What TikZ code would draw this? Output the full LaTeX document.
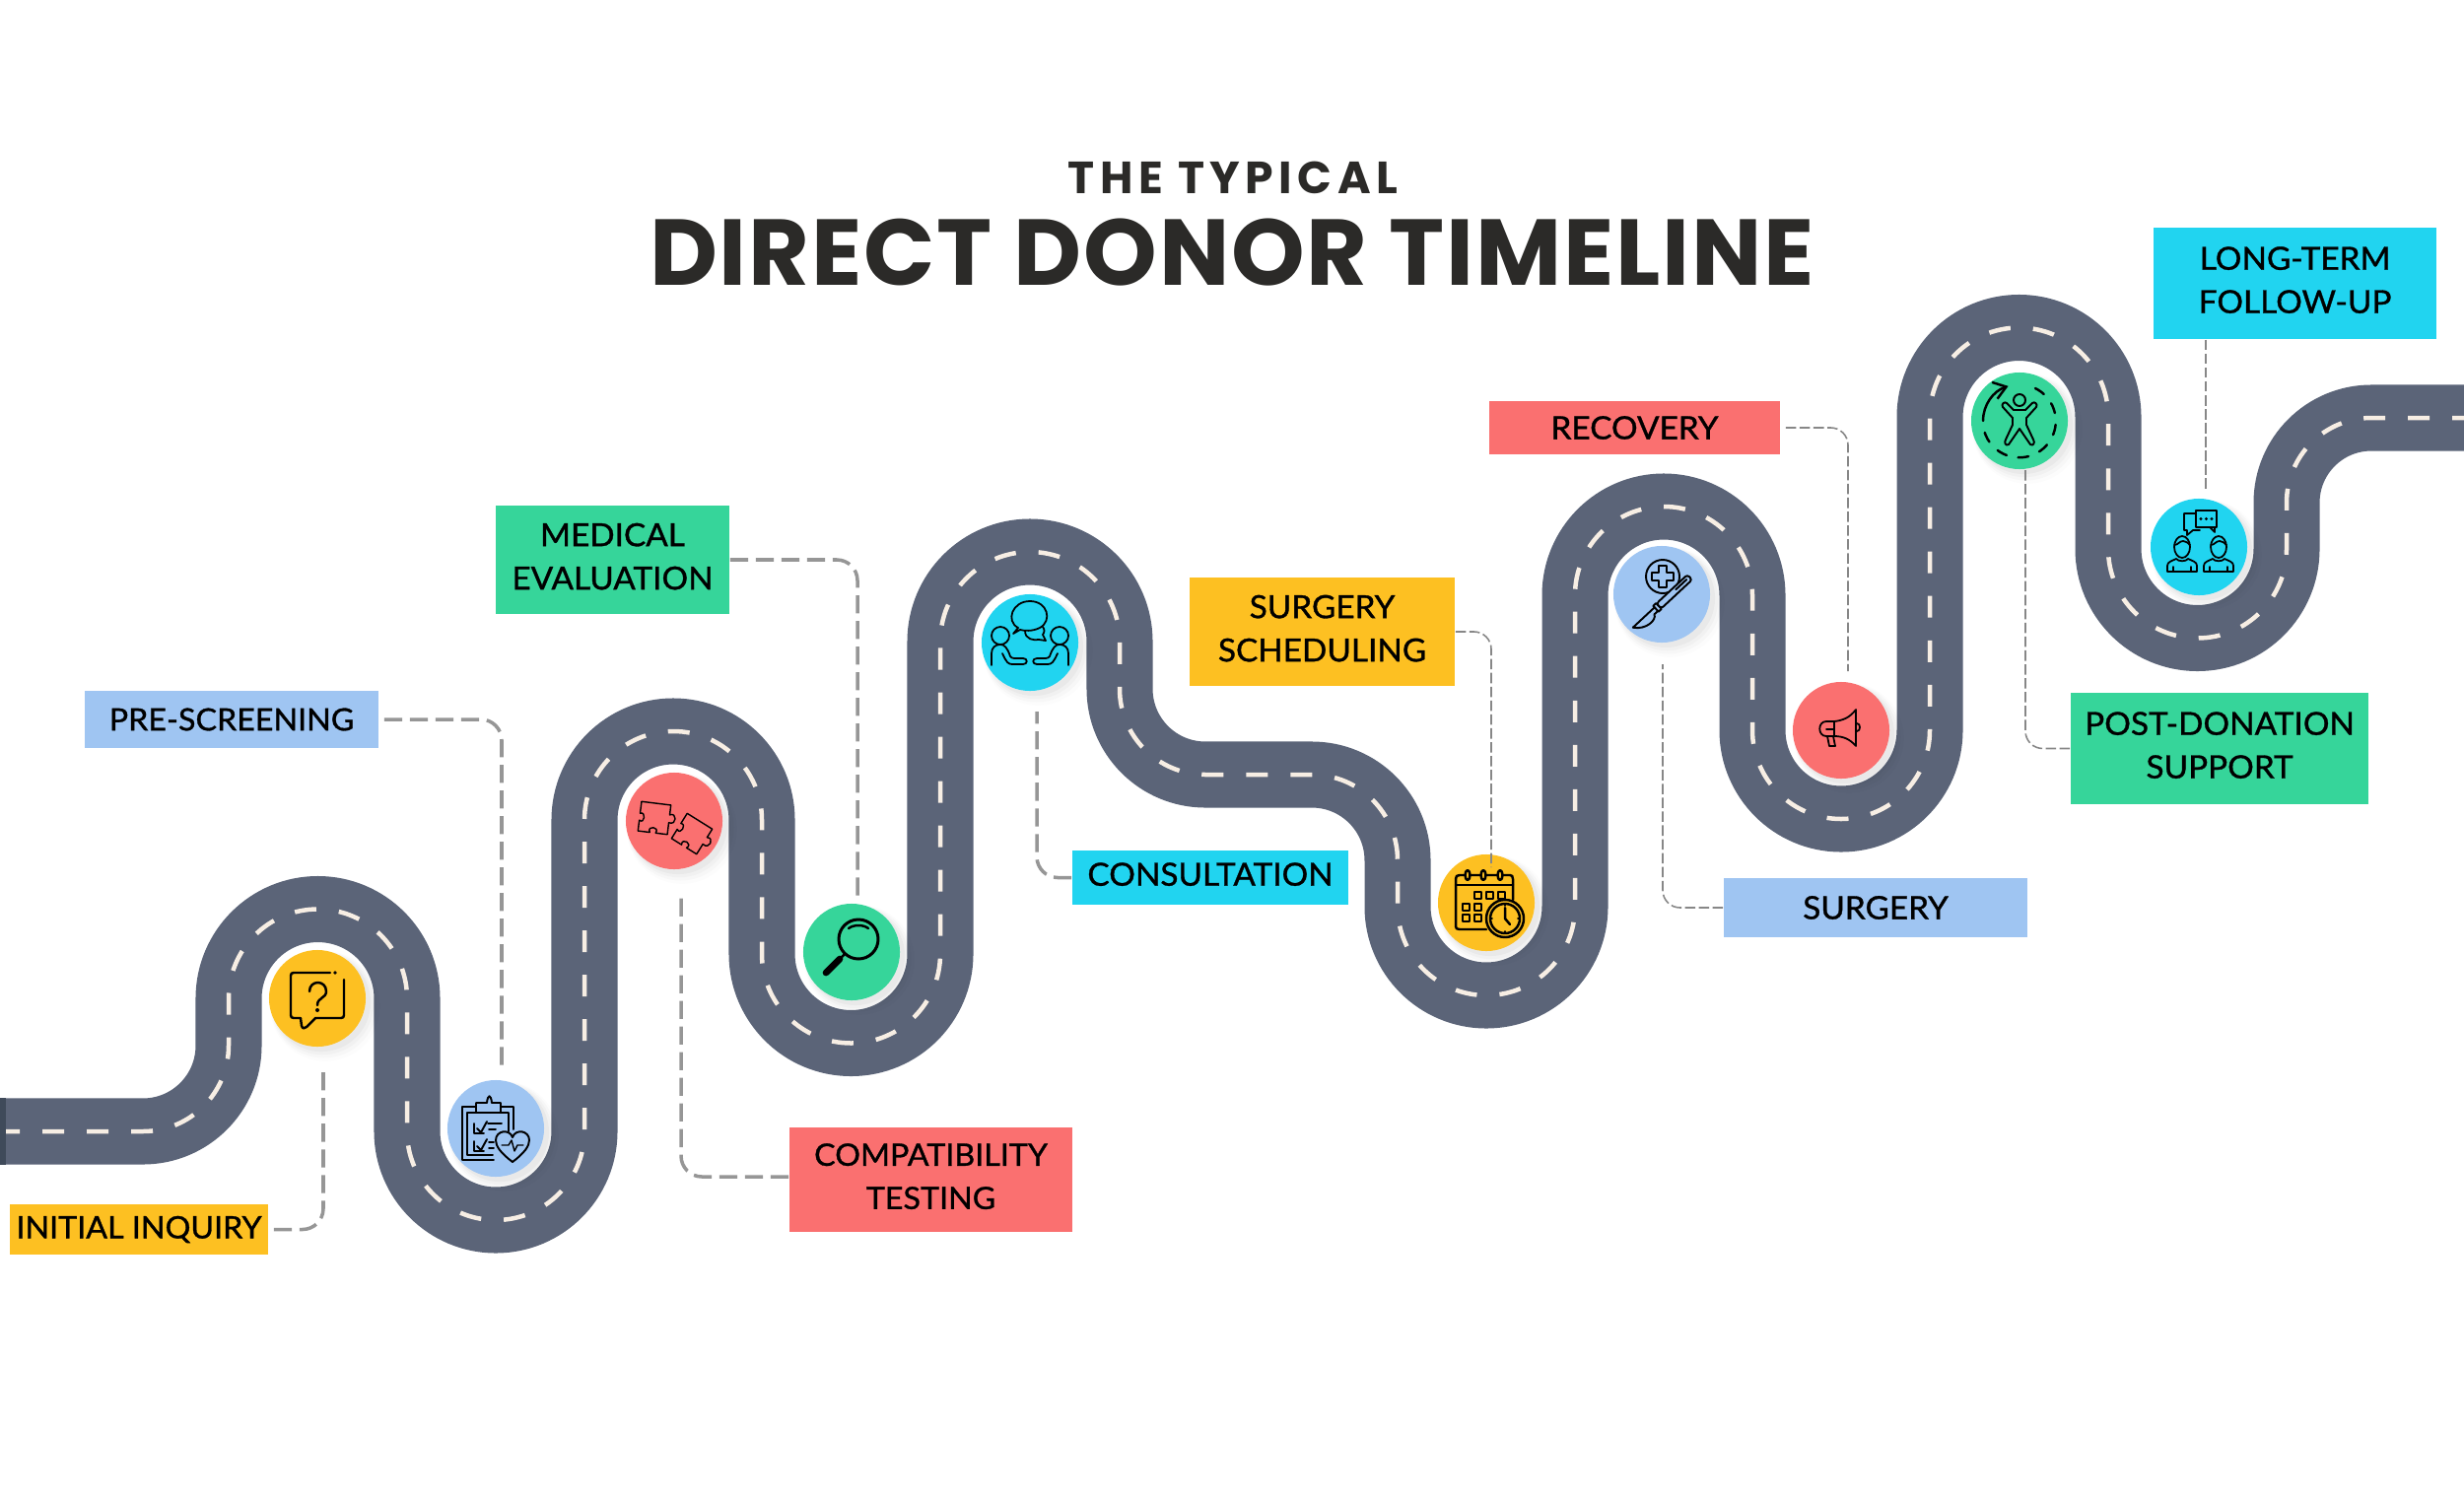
\documentclass[tikz,border=0pt]{standalone}
\usepackage{fontspec}
\setmainfont{Lato}
\newfontfamily\tagfont{Lato}[FakeBold=1, FakeStretch=1.03]
\newfontfamily\titlefont{Poppins}[LetterSpace=1.9]
\newfontfamily\leadfont{Poppins}[LetterSpace=12]
\usetikzlibrary{arrows.meta, shadows}
\definecolor{roadgrey}{HTML}{5B6478}
\definecolor{roadend}{HTML}{3F4A5A}
\definecolor{lanecream}{HTML}{F7EEE4}
\definecolor{tagyellow}{HTML}{FDC022}
\definecolor{tagblue}{HTML}{9FC5F2}
\definecolor{tagred}{HTML}{FA7070}
\definecolor{taggreen}{HTML}{36D59A}
\definecolor{tagcyan}{HTML}{21D4F0}
\definecolor{leadergrey}{HTML}{969696}
\definecolor{inkdark}{HTML}{2B2A28}
\newcommand{\roadcourse}{(0,1148) -- (145,1148) arc (90:0:87) -- (232,1013)
    arc (180:360:90.5) -- (413,1148) arc (180:0:90) -- (593,832)
    arc (180:360:90) -- (773,968) arc (180:0:90.5) -- (954,651)
    arc (180:360:91) -- (1136,699) arc (180:90:87) -- (1331,786)
    arc (270:360:87) -- (1418,920) arc (180:0:90) -- (1598,604)
    arc (180:360:90) -- (1778,741) arc (180:0:90) -- (1958,423)
    arc (180:360:90.5) -- (2139,557) arc (180:0:90.5) -- (2320,510)
    arc (180:270:86) -- (2500,424)}
\newcommand{\puzzlepiece}{(-15,-15) -- (15,-15) -- (15,-5)
    .. controls (22,-9) and (24,5) .. (15,3) -- (15,15) -- (3,15)
    .. controls (7,8) and (-7,8) .. (-3,15) -- (-15,15) -- (-15,4)
    .. controls (-9,8) and (-9,-6) .. (-15,-3) -- cycle}

\begin{document}
\begin{tikzpicture}[
    x=0.01cm, y=-0.01cm,
    road/.style={line width=0.67cm, roadgrey},
    lane/.style={line width=0.045cm, lanecream, dash pattern=on 0.22cm off 0.23cm, dash phase=0.02cm},
    tag/.style={inner sep=0, align=center, text=black, font=\tagfont\fontsize{9.2}{12.5}\selectfont},
    tagsmall/.style={tag, font=\tagfont\fontsize{8.9}{12.5}\selectfont},
    tagpair/.style={tag, text depth=2pt},
    stopdot/.style={circle, inner sep=0, minimum size=0.98cm,
        drop shadow={shadow xshift=0.07cm, shadow yshift=-0.07cm, shadow scale=1.14, opacity=0.012, fill=black},
        drop shadow={shadow xshift=0.06cm, shadow yshift=-0.06cm, shadow scale=1.1, opacity=0.018, fill=black},
        drop shadow={shadow xshift=0.05cm, shadow yshift=-0.05cm, shadow scale=1.06, opacity=0.025, fill=black},
        drop shadow={shadow xshift=0.04cm, shadow yshift=-0.04cm, shadow scale=1.02, opacity=0.03, fill=black}},
    leader/.style={leadergrey, line width=1pt, dash pattern=on 5.2pt off 2.2pt, rounded corners=6pt},
    leaderthin/.style={leadergrey!90!black, line width=0.45pt, dash pattern=on 3pt off 1pt, rounded corners=5pt},
    icon/.style={black, line width=0.7pt, line cap=round, line join=round},
    iconthin/.style={black, line width=0.4pt, line cap=round, line join=round}
]
    \useasboundingbox (0,0) rectangle (2500,1518);

    % Title
    \node[inner sep=0, text=inkdark, font=\leadfont\bfseries\fontsize{13}{13}\selectfont] (lead) at (1251,180) {THE TYPICAL};
    \node[inner sep=0, text=inkdark, font=\titlefont\bfseries\fontsize{27}{27}\selectfont] (headline) at (1250,256) {DIRECT DONOR TIMELINE};

    % Road
    \draw[road] \roadcourse;
    \draw[lane] \roadcourse;
    \fill[roadend] (0,1114) rectangle (6,1182);

    % Stops
    \node[stopdot, fill=tagyellow] (stopinquiry) at (322,1013) {};
    \node[stopdot, fill=tagblue] (stopscreen) at (503,1145) {};
    \node[stopdot, fill=tagred] (stoptest) at (684,833) {};
    \node[stopdot, fill=taggreen] (stopeval) at (864,966) {};
    \node[stopdot, fill=tagcyan] (stopconsult) at (1045,652) {};
    \node[stopdot, fill=tagyellow] (stopsched) at (1508,916) {};
    \node[stopdot, fill=tagblue] (stopsurgery) at (1686,603) {};
    \node[stopdot, fill=tagred] (stoprecovery) at (1868,741) {};
    \node[stopdot, fill=taggreen] (stopsupport) at (2049,427) {};
    \node[stopdot, fill=tagcyan] (stopfollow) at (2231,555) {};

    % Labels
    \node[tagsmall, fill=tagyellow, minimum width=2.62cm, minimum height=0.51cm] (inquiry) at (141,1247.5) {INITIAL INQUIRY};
    \node[tagsmall, fill=tagblue, minimum width=2.98cm, minimum height=0.58cm] (screen) at (235,730) {PRE-SCREENING};
    \node[tagpair, fill=taggreen, minimum width=2.37cm, minimum height=1.10cm] (eval) at (621.5,568) {MEDICAL\\EVALUATION};
    \node[tagpair, tagsmall, fill=tagred, minimum width=2.87cm, minimum height=1.05cm] (test) at (944.5,1197) {COMPATIBILITY\\TESTING};
    \node[tagpair, fill=tagcyan, minimum width=2.80cm, minimum height=0.55cm] (consult) at (1228,890.5) {CONSULTATION};
    \node[tagpair, fill=tagyellow, minimum width=2.69cm, minimum height=1.09cm] (sched) at (1341.5,641) {SURGERY\\SCHEDULING};
    \node[tag, fill=tagblue, minimum width=3.08cm, minimum height=0.60cm] (surgery) at (1903,921) {SURGERY};
    \node[tag, fill=tagred, minimum width=2.95cm, minimum height=0.54cm] (recovery) at (1658.5,434) {RECOVERY};
    \node[tagpair, fill=taggreen, minimum width=3.02cm, minimum height=1.13cm] (support) at (2252,759.5) {POST-DONATION\\SUPPORT};
    \node[tagpair, fill=tagcyan, minimum width=2.87cm, minimum height=1.13cm] (follow) at (2328.5,287.5) {LONG-TERM\\FOLLOW-UP};

    % Leaders
    \coordinate (inquiryend) at (328,1082);
    \coordinate (screenend) at (509,1088);
    \coordinate (evalend) at (870,910);
    \coordinate (testend) at (691,909);
    \coordinate (consultend) at (1052,722);
    \coordinate (schedend) at (1513,880);
    \coordinate (surgeryend) at (1687,674);
    \coordinate (recoveryend) at (1875,681);
    \coordinate (supportend) at (2055,477);
    \coordinate (followend) at (2238,497);
    \draw[leader, shorten <=0.05cm] (inquiry.east) -| (inquiryend);
    \draw[leader, shorten <=0.05cm] (screen.east) -| (screenend);
    \draw[leader] (eval.east) -| (evalend);
    \draw[leader] ([yshift=0.03cm]test.west) -| (testend);
    \draw[leader] (consult.west) -| (consultend);
    \draw[leaderthin] (sched.east) -| (schedend);
    \draw[leaderthin] (surgery.west) -| (surgeryend);
    \draw[leaderthin, shorten <=0.05cm] (recovery.east) -| (recoveryend);
    \draw[leaderthin] (support.west) -| (supportend);
    \draw[leaderthin] (followend |- follow.south) -- (followend);

    % Icon: question bubble
    \begin{scope}[icon, shift={(stopinquiry)}]
        \draw (13,-26) -- (-24,-26) .. controls (-26,-26) and (-27,-25) .. (-27,-23) -- (-27,17)
            .. controls (-27,19) and (-26,20) .. (-24,20) -- (-17,20) -- (-16,28)
            .. controls (-15,31) and (-13,31) .. (-11,29) -- (-2,20) -- (24,20)
            .. controls (26,20) and (27,19) .. (27,17) -- (27,-19);
        \fill (18,-26) circle[radius=1.8];
        \draw (-8,-7) .. controls (-8,-19) and (9,-19) .. (9,-7) .. controls (9,0) and (0,-1) .. (0,7);
        \fill (0,12) circle[radius=2];
    \end{scope}

    % Icon: clipboard with heart
    \begin{scope}[icon, shift={(stopscreen)}, line width=0.55pt]
        \draw (-20,-16) -- (-20,-26) -- (-9,-26) .. controls (-8,-35) and (-5,-35) .. (-4,-26) -- (5,-26) -- (5,-16) -- cycle;
        \draw (-20,-22) -- (-34,-22) -- (-34,32) -- (-2,32);
        \draw (5,-22) -- (18,-22) -- (18,1);
        \draw (-20,-16) -- (-29,-16) -- (-29,27) -- (-3,27);
        \draw (5,-16) -- (13,-16) -- (13,3);
        \draw (-22,-5) -- (-22,5) -- (-12,5);
        \draw (-19,0) -- (-15,4) -- (-9,-7);
        \draw (-8,-5) -- (6,-5) (-7,1) -- (0,1);
        \draw (-22,13) -- (-22,23) -- (-12,23);
        \draw (-19,18) -- (-15,22) -- (-9,11);
        \draw (-7,14) -- (-2,14) (-7,20) -- (-2,20);
        \draw[fill=tagblue] (17,34) .. controls (5,25) and (0,18) .. (0,12) .. controls (0,2) and (14,0) .. (17,9)
            .. controls (20,0) and (34,2) .. (34,12) .. controls (34,18) and (29,25) .. (17,34) -- cycle;
        \draw[iconthin] (6,17) -- (13,17) -- (16,12) -- (19,23) -- (22,17) -- (28,17);
    \end{scope}

    % Icon: puzzle
    \begin{scope}[iconthin, shift={(stoptest)}]
        \draw[shift={(-20,-3)}, rotate=-7] \puzzlepiece;
        \draw[shift={(18,13)}, rotate=-32] \puzzlepiece;
    \end{scope}

    % Icon: magnifier
    \begin{scope}[icon, shift={(stopeval)}]
        \draw[line width=0.85pt] (7,-13) circle[radius=20];
        \draw (-3,-24) .. controls (2,-28) and (12,-28) .. (17,-24);
        \draw (-7,2) -- (-11,6);
        \draw[line width=1.9pt] (-12,7) -- (-26,21);
    \end{scope}

    % Icon: two people talking
    \begin{scope}[iconthin, shift={(stopconsult)}, line width=0.5pt]
        \draw (-12,-15) .. controls (-25,-22) and (-18,-42) .. (0,-42) .. controls (18,-42) and (23,-22) .. (10,-15)
            .. controls (2,-11) and (-6,-12) .. (-10,-13) -- (-17,-9) -- cycle;
        \draw (-5,-12) .. controls (-5,-3) and (4,-2) .. (9,-3) -- (16,-2) -- (13,-8) .. controls (15,-11) and (15,-13) .. (13,-16);
        \foreach \side in {1,-1} {
            \begin{scope}[xscale=\side]
                \draw (-30,-7) circle[radius=9];
                \draw (-39,23) -- (-39,11) .. controls (-39,5) and (-35,2) .. (-30,2)
                    .. controls (-26,2) and (-23,5) .. (-20,14) .. controls (-19,15) and (-18,16) .. (-16,16) -- (-7,16)
                    .. controls (-2,16) and (-2,22) .. (-7,22) -- (-18,22) .. controls (-22,22) and (-24,20) .. (-28,11);
            \end{scope}
        }
    \end{scope}

    % Icon: calendar with clock
    \begin{scope}[icon, shift={(stopsched)}]
        \draw (0,27) -- (-27,27) .. controls (-30,27) and (-31,26) .. (-31,24) -- (-31,-24)
            .. controls (-31,-27) and (-30,-28) .. (-27,-28) -- (24,-28) .. controls (26,-28) and (27,-27) .. (27,-24) -- (27,-3);
        \draw (-31,-18) -- (27,-18);
        \foreach \ringx in {-19,-3,14} {
            \draw[fill=tagyellow] (\ringx,-28) ellipse (2.5 and 5);
        }
        \foreach \cellx/\celly in {-12/-11, 0/-11, 12/-11, -24/1, -12/1, -24/12, -12/12} {
            \draw[line width=0.55pt] (\cellx,\celly) rectangle ++(7,7);
        }
        \draw[fill=tagyellow] (19,16) circle[radius=19];
        \draw (19,16) circle[radius=15];
        \draw (19,5) -- (19,16) -- (24,22);
        \draw[line width=0.5pt] (19,1) -- (19,3) (19,29) -- (19,31) (4,16) -- (6,16) (32,16) -- (34,16);
    \end{scope}

    % Icon: scalpel and cross
    \begin{scope}[icon, shift={(stopsurgery)}, line width=0.55pt]
        \draw (1,-18) circle[radius=17];
        \draw (-3,-29) -- (5,-29) -- (5,-22) -- (12,-22) -- (12,-14) -- (5,-14) -- (5,-7) -- (-3,-7) -- (-3,-14) -- (-10,-14) -- (-10,-22) -- (-3,-22) -- cycle;
        \begin{scope}[shift={(-3,12)}, rotate=43]
            \draw[fill=tagblue, rounded corners=0.8pt] (0,-3.5) rectangle (43,3.5);
            \draw (24,-0.5) -- (39,-0.5);
            \draw[fill=tagblue] (-4,-4) rectangle (0,4);
            \draw (-4,-2) -- (-9,-2) -- (-34,-2) .. controls (-26,9) and (-11,9) .. (-9,3) -- (-4,3);
        \end{scope}
    \end{scope}

    % Icon: megaphone
    \begin{scope}[iconthin, shift={(stoprecovery)}, line width=0.5pt]
        \draw (15,-21) .. controls (9,-13) and (2,-10) .. (-7,-9) -- (-15,-9) .. controls (-24,-9) and (-24,6) .. (-15,6) -- (-7,6)
            .. controls (2,6) and (9,9) .. (15,16) -- cycle;
        \draw (-7,-9) -- (-7,6);
        \draw (-15,-1) -- (-7,-1);
        \draw (-14,6) -- (-12,16) -- (-6,16) -- (-8,6);
        \draw (16,-7) .. controls (20,-7) and (20,1) .. (16,1);
    \end{scope}

    % Icon: figure in a ring
    \begin{scope}[icon, shift={(stopsupport)}]
        \draw[line width=0.55pt] (0,-21) circle[radius=6];
        \draw[line width=0.55pt] (-6,-11) -- (-13,-18) .. controls (-15,-20) and (-19,-17) .. (-17,-14) -- (-7,-3) -- (-7,4) -- (-14,19)
            .. controls (-16,22) and (-14,26) .. (-11,24) -- (0,8) -- (11,24) .. controls (14,26) and (16,22) .. (14,19)
            -- (7,4) -- (7,-3) -- (17,-14) .. controls (19,-17) and (15,-20) .. (13,-18) -- (6,-11) -- cycle;
        \draw[-{Straight Barb[length=3.5pt, width=5pt]}] (-37,0) arc (180:252:37);
        \draw[dash pattern=on 3pt off 3.4pt] (16,-33) arc (-64:172:37);
    \end{scope}

    % Icon: two people with speech bubbles
    \begin{scope}[iconthin, shift={(stopfollow)}, line width=0.5pt]
        \draw (-3,-34) -- (-15,-34) -- (-15,-17) -- (-12,-17) -- (-12,-12) -- (-6,-17) -- (1,-17);
        \draw[fill=tagcyan] (-3,-37) rectangle (18,-20);
        \draw (11,-20) -- (16,-15) -- (16,-20);
        \foreach \dotx in {2,7.5,13} {
            \fill (\dotx,-28.5) circle[radius=1.7];
        }
        \foreach \headx in {-17,20} {
            \begin{scope}[shift={(\headx,0)}]
                \draw (0,0) ellipse (8 and 11);
                \draw (-8,-2) .. controls (-4,-2) and (-3,-6) .. (1,-6) .. controls (4,-6) and (6,-4) .. (8,-2);
                \draw (-15,25) -- (-15,19) .. controls (-15,15) and (-10,14) .. (-6,12) .. controls (-4,15) and (4,15) .. (6,12)
                    .. controls (10,14) and (15,15) .. (15,19) -- (15,25) -- cycle;
                \draw (-9,25) -- (-9,20) (9,25) -- (9,20);
            \end{scope}
        }
    \end{scope}
\end{tikzpicture}
\end{document}
